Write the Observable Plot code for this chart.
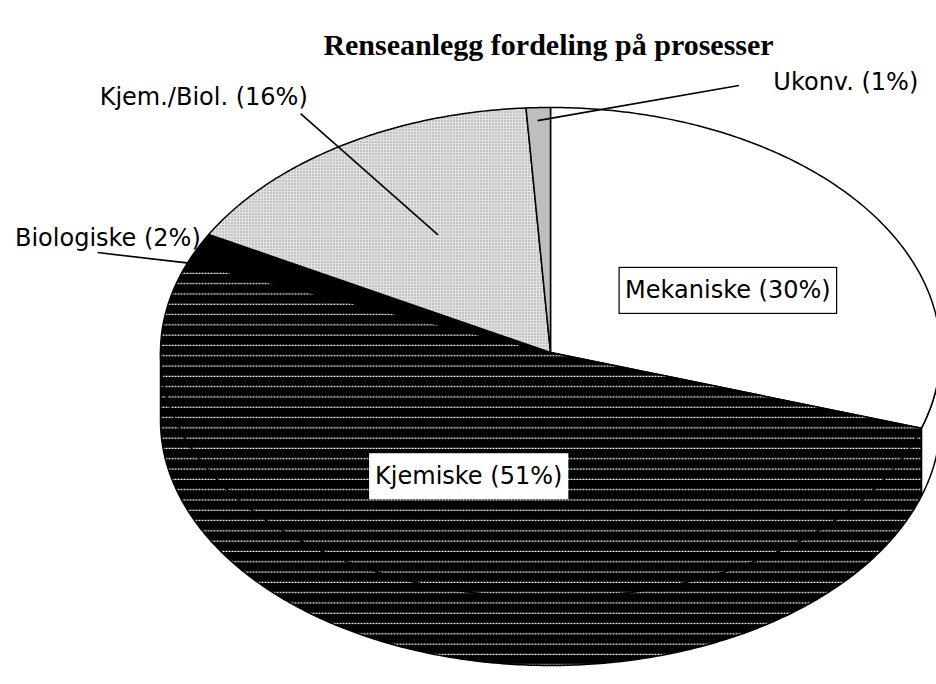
<!DOCTYPE html>
<html><head><meta charset="utf-8">
<script src="https://cdn.jsdelivr.net/npm/d3@7"></script>
<script src="https://cdn.jsdelivr.net/npm/@observablehq/plot@0.6"></script>
<style>body{margin:0;background:#fff} #chart svg{display:block}</style>
</head><body>
<svg width="0" height="0" style="position:absolute">
  <defs>
    <pattern id="hatch" width="9" height="10.3" patternUnits="userSpaceOnUse">
      <rect width="9" height="10.3" fill="#000"/>
      <line x1="0" x2="9" y1="5" y2="5" stroke="#fff" stroke-width="1.3" stroke-dasharray="2 1"/>
    </pattern>
    <pattern id="dotsLight" width="3" height="3" patternUnits="userSpaceOnUse">
      <rect width="3" height="3" fill="#e2e2e2"/>
      <rect width="1" height="1" fill="#6a6a6a"/>
    </pattern>
    <pattern id="dotsMid" width="2" height="2" patternUnits="userSpaceOnUse">
      <rect width="2" height="2" fill="#cfcfcf"/>
      <rect width="1" height="1" fill="#8a8a8a"/>
    </pattern>
  </defs>
</svg>
<div id="chart"></div>
<script>
// ---- data ----
const title = "Renseanlegg fordeling på prosesser";
const categories = ["Mekaniske", "Kjemiske", "Biologiske", "Kjem./Biol.", "Ukonv."];
const shares = [30, 51, 2, 16, 1];
const labelTexts = ["Mekaniske (30%)", "Kjemiske (51%)", "Biologiske (2%)", "Kjem./Biol. (16%)", "Ukonv. (1%)"];

// ---- styles ----
const fills = {
  "Mekaniske": "white",
  "Kjemiske": "url(#hatch)",
  "Biologiske": "black",
  "Kjem./Biol.": "url(#dotsLight)",
  "Ukonv.": "url(#dotsMid)"
};
// label placement: polar (r, angle offset in degrees from slice middle)
const layout = {
  "Mekaniske": {text: {r: 0.52, da: 7}, anchor: "middle", box: "outline"},
  "Kjemiske": {text: {r: 0.548, da: 2.7}, anchor: "middle", box: "plain"},
  "Biologiske": {text: {r: 1.01, da: 2.2}, anchor: "end", lead: [{r: 0.985, da: -3.6}, {r: 1.231, da: -5.85}]},
  "Kjem./Biol.": {text: {r: 1.212, da: 1.5}, anchor: "end", lead: [{r: 0.56, da: 1.4}, {r: 1.167, da: -0.9}]},
  "Ukonv.": {text: {r: 1.2416, da: 29.2}, anchor: "start", lead: [{r: 0.947, da: -0.2}, {r: 1.192, da: 25.7}]}
};
const depth = 68 / 245; // side wall thickness in unit-radius terms

const arcs = d3.pie().sort(null).value(d => d)(shares);
const pt = (theta, r = 1, dz = 0) => [r * Math.sin(theta), r * Math.cos(theta) - dz];
function arcPts(a, b, dz = 0) {
  const n = Math.max(2, Math.ceil((b - a) / 0.01));
  return d3.range(n + 1).map(i => pt(a + (b - a) * i / n, 1, dz));
}
const faces = arcs.map((a, i) => ({cat: categories[i], pts: [[0, 0], ...arcPts(a.startAngle, a.endAngle)]}));
const sides = [];
arcs.forEach((a, i) => {
  const s = Math.max(a.startAngle, Math.PI / 2), e = Math.min(a.endAngle, 3 * Math.PI / 2);
  if (e > s) sides.push({cat: categories[i], pts: [...arcPts(s, e), ...arcPts(s, e, depth).reverse()]});
});
const rad = Math.PI / 180;
const labels = arcs.map((a, i) => {
  const L = layout[categories[i]], mid = (a.startAngle + a.endAngle) / 2;
  const p = pt(mid + L.text.da * rad, L.text.r);
  const o = {cat: categories[i], text: labelTexts[i], x: p[0], y: p[1], anchor: L.anchor, box: L.box};
  if (L.lead) {
    const p1 = pt(mid + L.lead[0].da * rad, L.lead[0].r), p2 = pt(mid + L.lead[1].da * rad, L.lead[1].r);
    Object.assign(o, {x1: p1[0], y1: p1[1], x2: p2[0], y2: p2[1]});
  }
  return o;
});
const leads = labels.filter(d => d.x1 !== undefined);

const font = "DejaVu Sans, sans-serif";
const fs = 24;
const marks = [];
sides.forEach(s => marks.push(Plot.line(s.pts, {x: d => d[0], y: d => d[1], curve: "linear-closed",
  fill: fills[s.cat], stroke: "black", strokeWidth: 1.5})));
faces.forEach(f => marks.push(Plot.line(f.pts, {x: d => d[0], y: d => d[1], curve: "linear-closed",
  fill: fills[f.cat], stroke: "black", strokeWidth: 1.5, strokeLinejoin: "round"})));
marks.push(Plot.link(leads, {x1: "x1", y1: "y1", x2: "x2", y2: "y2", stroke: "black", strokeWidth: 1.6}));
["middle", "start", "end"].forEach(anc => {
  marks.push(Plot.text(labels.filter(d => d.anchor === anc && !d.box), {x: "x", y: "y", text: "text",
    textAnchor: anc, fontSize: fs, fontFamily: font, fill: "black"}));
});
marks.push(Plot.text(labels.filter(d => d.box === "outline"), {x: "x", y: "y", text: "text",
  fontSize: fs, fontFamily: font, fill: "black", className: "box-outline"}));
marks.push(Plot.text(labels.filter(d => d.box === "plain"), {x: "x", y: "y", text: "text",
  fontSize: fs, fontFamily: font, fill: "black", className: "box-plain"}));
marks.push(Plot.text([title], {frameAnchor: "top", dy: 33, dx: 80, text: d => d,
  fontSize: 30, fontWeight: "bold", fontFamily: "Liberation Serif, Times New Roman, serif", fill: "black"}));

const chart = Plot.plot({
  width: 936, height: 684, margin: 0,
  x: {domain: [-1, 1], range: [160, 940], axis: null},
  y: {domain: [-1, 1], range: [597, 107], axis: null},
  style: {background: "white", overflow: "hidden"},
  marks
});
document.getElementById("chart").append(chart);

function boxify(cls, stroke) {
  chart.querySelectorAll(`g.${cls} text`).forEach(t => {
    const b = t.getBBox();
    const r = document.createElementNS("http://www.w3.org/2000/svg", "rect");
    r.setAttribute("x", b.x - 6);
    r.setAttribute("y", b.y - 9);
    r.setAttribute("width", b.width + 12);
    r.setAttribute("height", b.height + 18);
    r.setAttribute("fill", "white");
    r.setAttribute("stroke", stroke);
    r.setAttribute("stroke-width", 1.2);
    const tr = t.getAttribute("transform");
    if (tr) r.setAttribute("transform", tr);
    t.parentNode.insertBefore(r, t);
  });
}
boxify("box-outline", "black");
boxify("box-plain", "none");
</script>
</body></html>
